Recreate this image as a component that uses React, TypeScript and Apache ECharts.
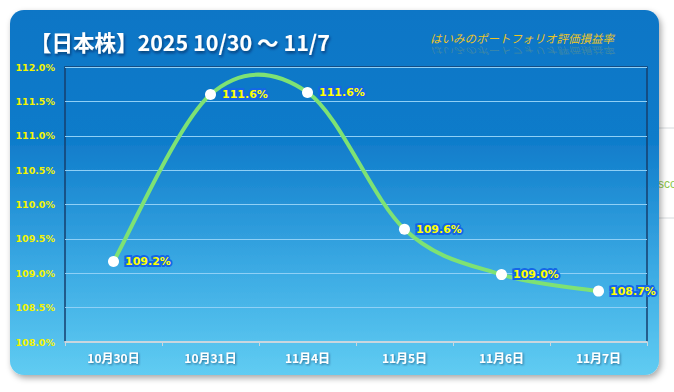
import React, { useEffect, useRef } from "react";
import * as echarts from "echarts";

const categories = ["10月30日", "10月31日", "11月4日", "11月5日", "11月6日", "11月7日"];
const values = [109.17, 111.6, 111.63, 109.64, 108.98, 108.74];
const valueLabels = ["109.2%", "111.6%", "111.6%", "109.6%", "109.0%", "108.7%"];
const yMin = 108;
const yMax = 112;
const yInterval = 0.5;
const titleText = "【日本株】2025 10/30 ～ 11/7";
const subtitleText = "はいみのポートフォリオ評価損益率";

export default function App() {
  const ref = useRef<HTMLDivElement>(null);
  useEffect(() => {
    if (!ref.current) return;
    const chart = echarts.init(ref.current, null, { renderer: "svg" });
    const n = values.length;
    const renderSegment = (params: any, api: any) => {
      const i = params.dataIndexInside;
      if (i >= n - 1) return null;
      const pt = (k: number) => {
        const kk = Math.max(0, Math.min(n - 1, k));
        return api.coord([api.value(0, kk), api.value(1, kk)]);
      };
      const p0 = pt(i - 1);
      const p1 = pt(i);
      const p2 = pt(i + 1);
      const p3 = pt(i + 2);
      const t = 1 / 6;
      const cp1 = [p1[0] + (p2[0] - p0[0]) * t, p1[1] + (p2[1] - p0[1]) * t];
      const cp2 = [p2[0] - (p3[0] - p1[0]) * t, p2[1] - (p3[1] - p1[1]) * t];
      return {
        type: "bezierCurve",
        shape: {
          x1: p1[0],
          y1: p1[1],
          cpx1: cp1[0],
          cpy1: cp1[1],
          cpx2: cp2[0],
          cpy2: cp2[1],
          x2: p2[0],
          y2: p2[1],
        },
        style: { stroke: "#7ee274", lineWidth: 4, fill: "none", lineCap: "round" },
      };
    };
    chart.setOption({
      animation: false,
      backgroundColor: "#ffffff",
      graphic: [
        {
          type: "line",
          shape: { x1: 655, y1: 128, x2: 674, y2: 128 },
          style: { stroke: "#d6dadd", lineWidth: 1 },
          z: -20,
        },
        {
          type: "line",
          shape: { x1: 655, y1: 218, x2: 674, y2: 218 },
          style: { stroke: "#d6dadd", lineWidth: 1 },
          z: -20,
        },
        {
          type: "text",
          x: 658,
          y: 184,
          style: { text: "sco", fill: "#8cc84b", font: "12px 'Liberation Sans'", verticalAlign: "middle" },
          z: -20,
        },
        {
          type: "rect",
          shape: { x: 10, y: 10, width: 649, height: 365, r: 14 },
          style: {
            fill: new echarts.graphic.LinearGradient(0, 0, 0, 1, [
              { offset: 0, color: "#0b76c6" },
              { offset: 0.35, color: "#0f7bca" },
              { offset: 0.7, color: "#3aa9e3" },
              { offset: 1, color: "#60ccf2" },
            ]),
            shadowBlur: 6,
            shadowColor: "rgba(0,0,0,0.35)",
            shadowOffsetX: 2,
            shadowOffsetY: 3,
          },
          z: -10,
        },
        {
          type: "text",
          x: 30,
          y: 41,
          style: {
            text: titleText,
            fill: "#ffffff",
            font: "bold 21.5px 'Noto Sans CJK JP'",
            verticalAlign: "middle",
            textShadowColor: "rgba(0,20,60,0.6)",
            textShadowBlur: 3,
            textShadowOffsetX: 1,
            textShadowOffsetY: 2,
          },
          z: 10,
        },
        {
          type: "text",
          x: 430,
          y: 38,
          style: {
            text: subtitleText,
            fill: "#ecc426",
            font: "italic 11.5px 'Noto Sans CJK JP'",
            verticalAlign: "middle",
          },
          z: 10,
        },
        {
          type: "text",
          x: 430,
          y: 51,
          scaleY: -0.8,
          style: {
            text: subtitleText,
            fill: "rgba(236,196,38,0.22)",
            font: "italic 11.5px 'Noto Sans CJK JP'",
            verticalAlign: "middle",
          },
          z: 10,
        },
      ],
      grid: {
        left: 65,
        right: 27,
        top: 67,
        bottom: 50,
        show: true,
        borderColor: "#163f6e",
        borderWidth: 1.5,
        backgroundColor: "transparent",
      },
      xAxis: {
        type: "category",
        data: categories,
        boundaryGap: true,
        axisLine: { show: true, lineStyle: { color: "#c9d6de", width: 2 } },
        axisTick: { show: true, length: 4, inside: false, lineStyle: { color: "#c9d6de", width: 1 } },
        axisLabel: {
          color: "#ffffff",
          fontFamily: "'Noto Sans CJK JP'",
          fontWeight: "bold",
          fontSize: 12,
          margin: 9,
          textShadowColor: "rgba(0,30,70,0.55)",
          textShadowBlur: 2,
          textShadowOffsetX: 1,
          textShadowOffsetY: 1,
        },
        splitLine: { show: false },
      },
      yAxis: {
        type: "value",
        min: yMin,
        max: yMax,
        interval: yInterval,
        axisLine: { show: false },
        axisTick: { show: false },
        axisLabel: {
          color: "#f4f400",
          fontFamily: "'DejaVu Sans'",
          fontWeight: "bold",
          fontSize: 9.5,
          margin: 10,
          formatter: (v: number) => v.toFixed(1) + "%",
        },
        splitLine: { show: true, lineStyle: { color: "#8fd0f6", width: 1.2 } },
      },
      series: [
        {
          type: "custom",
          data: values.map((v, i) => [i, v]),
          renderItem: renderSegment,
          encode: { x: 0, y: 1 },
          z: 3,
          silent: true,
        },
        {
          type: "line",
          data: values,
          symbol: "circle",
          symbolSize: 11,
          itemStyle: { color: "#ffffff" },
          lineStyle: { width: 0, opacity: 0 },
          label: {
            show: true,
            position: "right",
            distance: 6,
            formatter: (p: any) => valueLabels[p.dataIndex],
            color: "#ffff00",
            fontFamily: "'DejaVu Sans'",
            fontWeight: "bold",
            fontSize: 11,
            textBorderColor: "#1566e6",
            textBorderWidth: 4,
          },
          z: 5,
        },
      ],
    });
    return () => chart.dispose();
  }, []);
  return (
    <div
      ref={ref}
      style={{ position: "absolute", left: 0, top: 0, width: 674, height: 392 }}
    />
  );
}
